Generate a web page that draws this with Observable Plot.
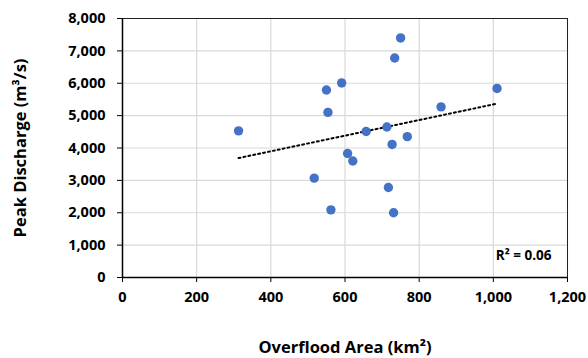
<!DOCTYPE html>
<html><head><meta charset="utf-8">
<script src="https://cdn.jsdelivr.net/npm/d3@7"></script>
<script src="https://cdn.jsdelivr.net/npm/@observablehq/plot@0.6"></script>
<style>body{margin:0;background:#fff}</style>
</head><body><div id="chart"></div>
<script>
const area = [313, 750, 734, 591, 550, 1010, 554, 859, 657, 713, 768, 727, 607, 621, 517, 717, 562, 731];
const discharge = [4530, 7400, 6780, 6010, 5790, 5840, 5100, 5270, 4510, 4650, 4350, 4110, 3830, 3600, 3070, 2780, 2090, 2000];
const xTicks = [0, 200, 400, 600, 800, 1000, 1200];
const yTicks = [0, 1000, 2000, 3000, 4000, 5000, 6000, 7000, 8000];
const r2Label = "R² = 0.06";
const xTitle = "Overflood Area (km²)";
const yTitle = "Peak Discharge (m³/s)";

const data = area.map((a, i) => ({area: a, discharge: discharge[i]}));
const font = "'Open Sans', sans-serif";
const fmt = d3.format(",");

const chart = Plot.plot({
  width: 588, height: 358,
  marginLeft: 122, marginRight: 21, marginTop: 18, marginBottom: 81,
  x: {domain: [0, 1200]},
  y: {domain: [0, 8000]},
  style: {fontFamily: font, fontWeight: 700, fontSize: "14.5px", color: "#000", background: "#fff"},
  marks: [
    Plot.gridX(xTicks, {stroke: "#d9d9d9", strokeOpacity: 1, strokeWidth: 1.2}),
    Plot.gridY(yTicks, {stroke: "#d9d9d9", strokeOpacity: 1, strokeWidth: 1.2}),
    Plot.frame({stroke: "#222", strokeWidth: 1}),
    Plot.axisX(xTicks, {tickFormat: fmt, tickSize: 5, tickPadding: 9, label: null}),
    Plot.axisY(yTicks, {tickFormat: fmt, tickSize: 5, tickPadding: 12, label: null}),
    Plot.ruleX([0], {stroke: "#000", strokeWidth: 1.5}),
    Plot.ruleY([0], {stroke: "#000", strokeWidth: 1.5}),
    Plot.linearRegressionY(data, {x: "area", y: "discharge", ci: 0, stroke: "#000", strokeWidth: 2, strokeDasharray: "2,3"}),
    Plot.dot(data, {x: "area", y: "discharge", r: 4.7, fill: "#4472C4"}),
    Plot.text([r2Label], {frameAnchor: "bottom-right", dx: -16, dy: -22, lineAnchor: "middle", textAnchor: "end", fontSize: 13.5}),
    Plot.text([xTitle], {frameAnchor: "bottom", dy: 70, lineAnchor: "middle", textAnchor: "middle", fontSize: 16.5}),
    Plot.text([yTitle], {frameAnchor: "left", dx: -102, rotate: -90, lineAnchor: "middle", textAnchor: "middle", fontSize: 16.5})
  ]
});
document.getElementById("chart").append(chart);
</script>
</body></html>
